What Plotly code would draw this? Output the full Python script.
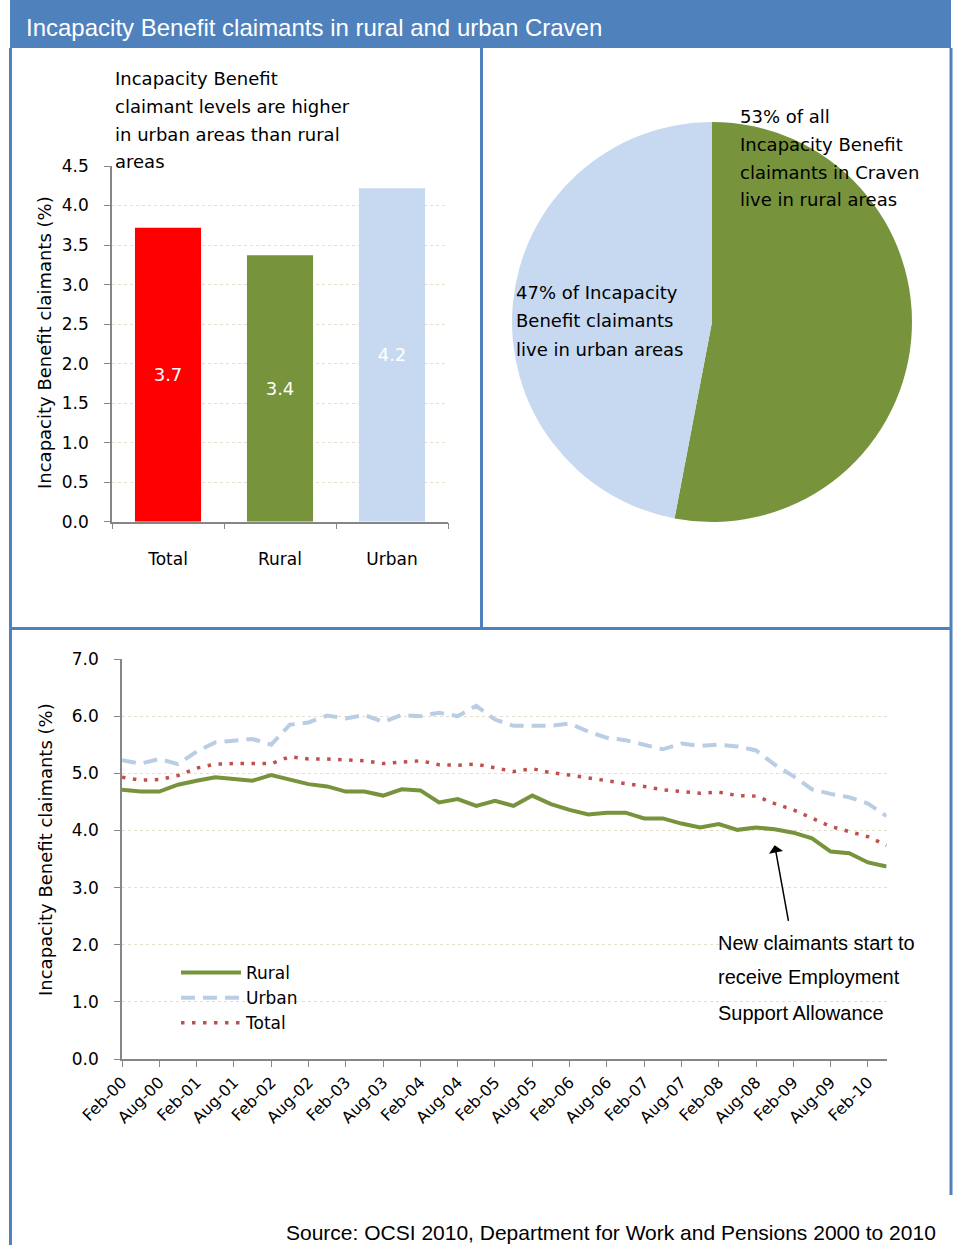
import plotly.graph_objects as go

# Incapacity Benefit claimants in rural and urban Craven - three panel page

W, H = 959, 1245

BLUE = "#4F81BD"
GREEN = "#77933C"
LIGHTBLUE = "#C6D9F1"
RED_BAR = "#FF0000"
RED_LINE = "#C0504D"
GRID = "#E3DFCF"
AXIS = "#868686"

CALIBRI = "DejaVu Sans"
ARIAL = "Liberation Sans"

# bar chart
bar_cats = ["Total", "Rural", "Urban"]
bar_vals = [3.72, 3.37, 4.22]
bar_colors = [RED_BAR, GREEN, LIGHTBLUE]

# pie chart
pie_labels = ["Rural", "Urban"]
pie_vals = [53, 47]
pie_colors = [GREEN, LIGHTBLUE]

# quarterly series Feb-00 .. May-10
months = ["Feb", "May", "Aug", "Nov"]
quarters = [f"{m}-{y:02d}" for y in range(0, 11) for m in months][:42]

rural = [4.71, 4.68, 4.68, 4.80, 4.87, 4.93, 4.90, 4.87, 4.97, 4.89,
         4.81, 4.77, 4.68, 4.68, 4.61, 4.72, 4.70, 4.49, 4.55, 4.43,
         4.52, 4.43, 4.61, 4.46, 4.36, 4.28, 4.31, 4.31, 4.21, 4.21,
         4.12, 4.05, 4.11, 4.01, 4.05, 4.02, 3.96, 3.86, 3.63, 3.60,
         3.44, 3.37]
urban = [5.23, 5.17, 5.25, 5.16, 5.38, 5.54, 5.57, 5.60, 5.50, 5.85,
         5.89, 6.01, 5.96, 6.02, 5.90, 6.02, 6.00, 6.06, 6.00, 6.18,
         5.94, 5.83, 5.83, 5.83, 5.87, 5.73, 5.62, 5.58, 5.50, 5.42,
         5.52, 5.48, 5.50, 5.47, 5.40, 5.15, 4.95, 4.72, 4.64, 4.58,
         4.47, 4.25]
total = [4.93, 4.88, 4.89, 4.96, 5.09, 5.16, 5.17, 5.17, 5.17, 5.29,
         5.25, 5.25, 5.23, 5.22, 5.17, 5.20, 5.22, 5.15, 5.14, 5.16,
         5.10, 5.03, 5.08, 5.01, 4.97, 4.92, 4.88, 4.83, 4.77, 4.71,
         4.68, 4.65, 4.67, 4.61, 4.60, 4.47, 4.36, 4.21, 4.07, 3.98,
         3.89, 3.74]


def px(x):
    return x / W


def py(y):
    return 1 - y / H


fig = go.Figure()

fig.add_trace(go.Bar(
    x=bar_cats, y=bar_vals,
    marker=dict(color=bar_colors, line=dict(width=0)),
    text=[f"{v:.1f}" for v in bar_vals],
    textposition="inside", insidetextanchor="middle",
    textfont=dict(family=CALIBRI, size=18, color="white"),
    width=0.59, showlegend=False, xaxis="x", yaxis="y",
))

fig.add_trace(go.Pie(
    labels=pie_labels, values=pie_vals,
    marker=dict(colors=pie_colors, line=dict(width=0)),
    sort=False, direction="clockwise", rotation=0,
    textinfo="none", showlegend=False, hoverinfo="label+percent",
    domain=dict(x=[px(512), px(912)], y=[py(522), py(122)]),
))

fig.add_trace(go.Scatter(
    x=quarters, y=rural, name="Rural", mode="lines",
    line=dict(color=GREEN, width=4), xaxis="x2", yaxis="y2",
))
fig.add_trace(go.Scatter(
    x=quarters, y=urban, name="Urban", mode="lines",
    line=dict(color="#B9CDE5", width=4, dash="14px,8px"), xaxis="x2", yaxis="y2",
))
fig.add_trace(go.Scatter(
    x=quarters, y=total, name="Total", mode="lines",
    line=dict(color=RED_LINE, width=3.5, dash="3.5px,7.5px"), xaxis="x2", yaxis="y2",
))

tickfont = dict(family=CALIBRI, size=17, color="black")

fig.update_layout(
    width=W, height=H,
    margin=dict(l=0, r=0, t=0, b=0, autoexpand=False),
    paper_bgcolor="white", plot_bgcolor="rgba(0,0,0,0)",
    bargap=0.41,
    xaxis=dict(
        domain=[px(112), px(448)], anchor="y", automargin=False,
        showline=True, linecolor=AXIS, linewidth=1.5,
        ticks="outside", tickson="boundaries", ticklen=6, tickcolor=AXIS,
        tickfont=tickfont, ticklabelstandoff=21, showgrid=False,
    ),
    yaxis=dict(
        domain=[py(521.7), py(166)], anchor="x", automargin=False,
        range=[0, 4.5], dtick=0.5, tickformat=".1f",
        showline=True, linecolor=AXIS, linewidth=1.5,
        ticks="outside", ticklen=6, tickcolor=AXIS,
        tickfont=tickfont, ticklabelstandoff=12,
        showgrid=True, gridcolor=GRID, griddash="dot", gridwidth=1,
        zeroline=False,
    ),
    xaxis2=dict(
        domain=[px(122), px(886.6)], anchor="y2", automargin=False,
        type="category", range=[0, 41],
        tickvals=quarters[::2], ticktext=quarters[::2],
        tickangle=-45,
        showline=True, linecolor=AXIS, linewidth=1.5,
        ticks="outside", ticklen=6, tickcolor=AXIS,
        tickfont=dict(family=CALIBRI, size=16, color="black"),
        showgrid=False,
    ),
    yaxis2=dict(
        domain=[py(1059), py(659)], anchor="x2", automargin=False,
        range=[0, 7], dtick=1, tickformat=".1f",
        showline=True, linecolor=AXIS, linewidth=1.5,
        ticks="outside", ticklen=6, tickcolor=AXIS,
        tickfont=tickfont, ticklabelstandoff=12,
        showgrid=True, gridcolor=GRID, griddash="dot", gridwidth=1,
        zeroline=False,
    ),
    legend=dict(
        x=px(176), y=py(955), xanchor="left", yanchor="top",
        font=dict(family=CALIBRI, size=17, color="black"),
        bgcolor="rgba(0,0,0,0)", tracegroupgap=0, itemwidth=60,
    ),
    showlegend=True,
)

# frame
shapes = [
    dict(type="rect", x0=px(10), x1=px(951), y0=py(48), y1=py(0),
         fillcolor=BLUE, line=dict(width=0), layer="below"),
    dict(type="line", x0=px(10.5), x1=px(10.5), y0=py(48), y1=py(1245),
         line=dict(color=BLUE, width=3)),
    dict(type="line", x0=px(951), x1=px(951), y0=py(48), y1=py(1195),
         line=dict(color=BLUE, width=3)),
    dict(type="line", x0=px(481.5), x1=px(481.5), y0=py(48), y1=py(628.5),
         line=dict(color=BLUE, width=3)),
    dict(type="line", x0=px(10.5), x1=px(951), y0=py(628.5), y1=py(628.5),
         line=dict(color=BLUE, width=3)),
]
for s in shapes:
    s.update(xref="paper", yref="paper")
fig.update_layout(shapes=shapes)


def text_lines(lines, x, ys, family, size, color="black"):
    for t, y in zip(lines, ys):
        fig.add_annotation(
            x=px(x), y=py(y), xref="paper", yref="paper",
            xanchor="left", yanchor="middle", text=t, showarrow=False,
            font=dict(family=family, size=size, color=color),
        )


text_lines(["Incapacity Benefit claimants in rural and urban Craven"],
           24, [28], ARIAL, 24, "white")
text_lines(["Incapacity Benefit", "claimant levels are higher",
            "in urban areas than rural", "areas"],
           113, [78, 106, 134, 161], CALIBRI, 18)
text_lines(["53% of all", "Incapacity Benefit", "claimants in Craven",
            "live in rural areas"],
           738, [116, 144, 172, 199], CALIBRI, 18)
text_lines(["47% of Incapacity", "Benefit claimants", "live in urban areas"],
           514, [293, 321, 349], CALIBRI, 18)
text_lines(["New claimants start to", "receive Employment",
            "Support Allowance"],
           716, [943, 977, 1013], ARIAL, 20)

fig.add_annotation(
    x=px(938), y=py(1232), xref="paper", yref="paper",
    xanchor="right", yanchor="middle", showarrow=False,
    text="Source: OCSI 2010, Department for Work and Pensions 2000 to 2010",
    font=dict(family=ARIAL, size=21, color="black"),
)

for yc in (343, 850):
    fig.add_annotation(
        x=px(45), y=py(yc), xref="paper", yref="paper",
        xanchor="center", yanchor="middle", showarrow=False, textangle=-90,
        text="Incapacity Benefit claimants (%)",
        font=dict(family=CALIBRI, size=18, color="black"),
    )

# arrow pointing at the ESA start
fig.add_annotation(
    x="Nov-08", y=3.74, xref="x2", yref="y2",
    ax=14, ay=77, text="", showarrow=True,
    arrowhead=1, arrowsize=1.6, arrowwidth=1.5, arrowcolor="black",
)

fig.write_html("out.html", config={"displayModeBar": False},
               post_script="document.body.style.margin='0px';")
